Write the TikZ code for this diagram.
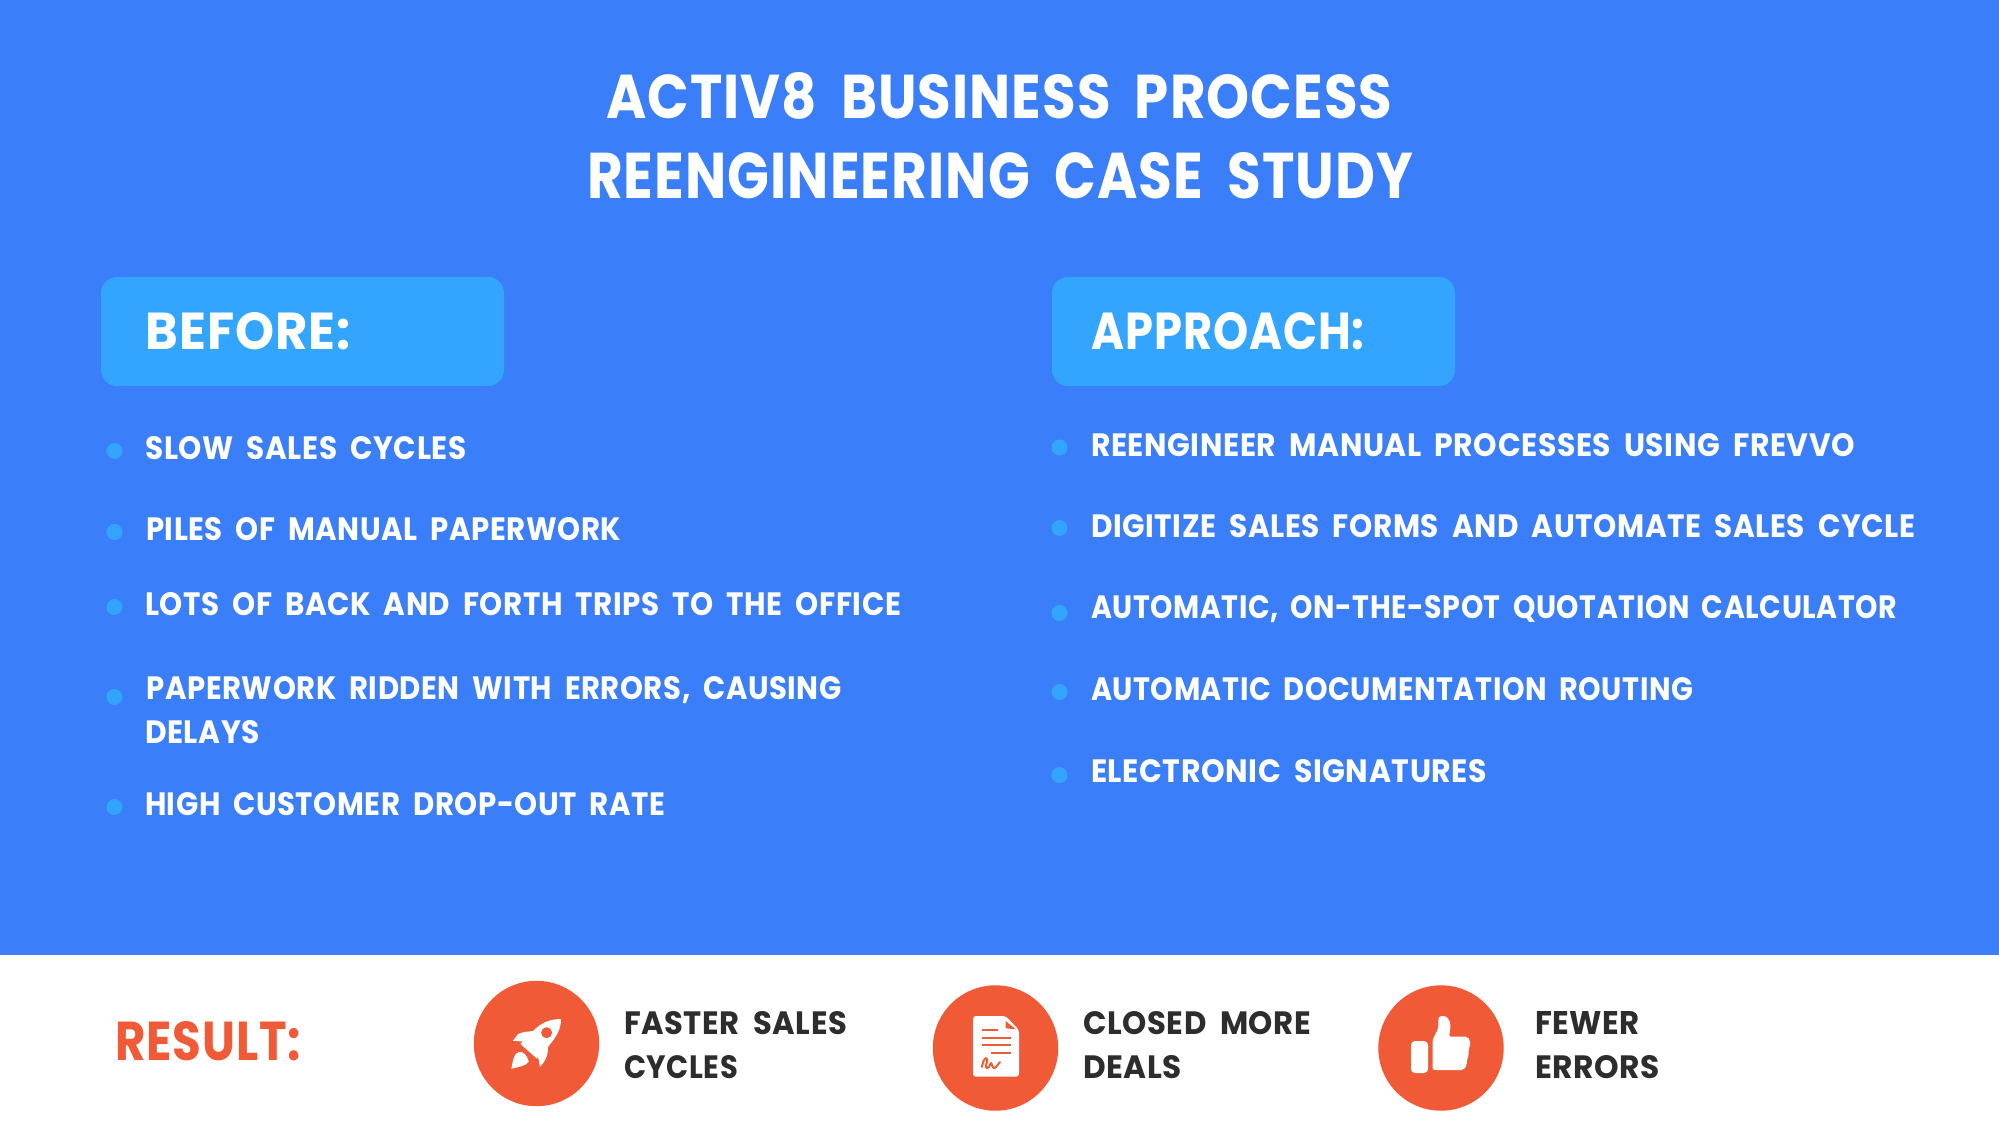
\documentclass[tikz,border=0pt]{standalone}
\usepackage{fontspec}
\setmainfont{Poppins}[WordSpace=1.9,LetterSpace=2]
\newlength{\pxu}
\setlength{\pxu}{0.05cm}
\definecolor{bgblue}{HTML}{3A7FF9}
\definecolor{boxblue}{HTML}{33A5FF}
\definecolor{accent}{HTML}{F15A37}
\definecolor{ink}{HTML}{2D2D2D}
\tikzset{
  fit label/.style={anchor=base west,inner sep=0pt,outer sep=0pt,font=\bfseries,text=#1},
  headbox/.style={fill=boxblue,rounded corners=16\pxu},
  dot/.style={fill=boxblue},
  badge/.style={fill=accent},
  icon/.style={fill=white,draw=none},
  iconline/.style={draw=accent,line width=2\pxu},
}
% colour, name, left x, baseline y, width, cap height, text
\newcommand{\lbl}[7]{\node[fit label=#1] (#2) at (#3,#4) {\resizebox{#5\pxu}{#6\pxu}{#7}};}
\newcommand{\bul}[3]{\fill[dot] (#2,#3) circle[radius=8] coordinate (#1);}
\begin{document}
\begin{tikzpicture}[x=0.05cm,y=-0.05cm]
\useasboundingbox (0,0) rectangle (1999,1143);
\fill[bgblue] (0,0) rectangle (1999,955);
\fill[white] (0,955) rectangle (1999,1143);
% title
\lbl{white}{t1}{606}{118}{786}{46}{ACTIV8 BUSINESS PROCESS}
\lbl{white}{t2}{587}{198}{826}{46}{REENGINEERING CASE STUDY}
% heading boxes
\fill[headbox] (101,277) rectangle (504,386);
\fill[headbox] (1052,277) rectangle (1455,386);
\lbl{white}{before}{145.5}{349}{205}{37}{BEFORE:}
\lbl{white}{approach}{1091.5}{349}{273}{37}{APPROACH:}
% left list
\bul{b1}{114.4}{451}
\bul{b2}{114.4}{532}
\bul{b3}{114.4}{607}
\bul{b4}{114.4}{697}
\bul{b5}{114.4}{807}
\lbl{white}{l1}{145.5}{459}{321}{23}{SLOW SALES CYCLES}
\lbl{white}{l2}{146}{540}{475}{23}{PILES OF MANUAL PAPERWORK}
\lbl{white}{l3}{145}{615}{756}{23}{LOTS OF BACK AND FORTH TRIPS TO THE OFFICE}
\lbl{white}{l4}{146.5}{699}{695}{23}{PAPERWORK RIDDEN WITH ERRORS, CAUSING}
\lbl{white}{l4b}{145}{743}{115}{23}{DELAYS}
\lbl{white}{l5}{145}{815}{520}{23}{HIGH CUSTOMER DROP-OUT RATE}
% right list
\bul{r1}{1059.5}{447.5}
\bul{r2}{1059.5}{528}
\bul{r3}{1059.5}{613}
\bul{r4}{1059.5}{692}
\bul{r5}{1059.5}{775}
\lbl{white}{a1}{1091}{456}{764}{23}{REENGINEER MANUAL PROCESSES USING FREVVO}
\lbl{white}{a2}{1091}{537}{824}{23}{DIGITIZE SALES FORMS AND AUTOMATE SALES CYCLE}
\lbl{white}{a3}{1091}{618}{806}{23}{AUTOMATIC, ON-THE-SPOT QUOTATION CALCULATOR}
\lbl{white}{a4}{1091}{700}{602}{23}{AUTOMATIC DOCUMENTATION ROUTING}
\lbl{white}{a5}{1091}{782}{396}{23}{ELECTRONIC SIGNATURES}
% result band
\lbl{accent}{res}{115}{1060}{186}{39}{RESULT:}
\fill[badge] (536.5,1043.5) circle[radius=62.7];
\fill[badge] (995.5,1048) circle[radius=62.7];
\fill[badge] (1441,1048) circle[radius=62.7];
\lbl{ink}{f1}{624}{1034}{223}{23}{FASTER SALES}
\lbl{ink}{f2}{624}{1078}{114}{23}{CYCLES}
\lbl{ink}{c1}{1083}{1034}{228}{23}{CLOSED MORE}
\lbl{ink}{c2}{1083}{1078}{99}{23}{DEALS}
\lbl{ink}{e1}{1535}{1034}{105}{23}{FEWER}
\lbl{ink}{e2}{1535}{1078}{125}{23}{ERRORS}
% rocket
\fill[icon] (561,1019) .. controls (548,1019) and (540,1024) .. (533,1031)
  -- (524,1032) -- (518,1034) -- (513,1040.7) -- (522.5,1041.5) -- (520.5,1044)
  -- (537,1058.7) -- (538,1056.7) -- (540,1066.7) .. controls (545,1062) and (548,1056) .. (548,1047)
  .. controls (556,1037) and (561,1030) .. (561,1019) -- cycle;
\fill[badge] (546.6,1032.7) circle[radius=5.5];
\fill[icon] (511.4,1068.7) .. controls (513,1060) and (514,1053) .. (519,1052)
  .. controls (523,1051) and (527,1055) .. (528.8,1061.7)
  .. controls (526,1066) and (518,1067) .. (511.4,1068.7) -- cycle;
% document
\fill[icon,rounded corners=3\pxu] (973,1016) -- (1005.6,1016) -- (1019,1030) -- (1019,1076.7) -- (973,1076.7) -- cycle;
\fill[badge] (1005.6,1021) -- (1016,1029.3) -- (1005.6,1028.3) -- cycle;
\draw[iconline] (981.5,1030) -- (998,1030);
\draw[iconline] (981.5,1037.7) -- (1010.5,1037.7);
\draw[iconline] (981.5,1045) -- (1010.5,1045);
\draw[iconline] (991,1052.7) -- (1010.5,1052.7);
\draw[iconline,line cap=round,line join=round] (982,1067) .. controls (983,1060) and (986,1056) .. (987,1059)
  .. controls (988,1062) and (984,1068) .. (987,1068) .. controls (990,1068) and (990,1063) .. (991,1063)
  .. controls (992,1063) and (992,1068) .. (994,1068) .. controls (996,1068) and (998,1064) .. (1000,1062);
% thumb
\fill[icon,rounded corners=4\pxu] (1411,1041) rectangle (1428,1073);
\fill[icon,rounded corners=2\pxu] (1432.7,1070) -- (1432.7,1039.3) -- (1438.3,1028.3) -- (1438.3,1020)
  .. controls (1439,1015.5) and (1446,1015) .. (1449,1020) .. controls (1451,1025) and (1450,1031) .. (1449,1036.7)
  -- (1467.3,1036.7) -- (1470,1040) -- (1470,1047) -- (1468,1050) -- (1469,1055) -- (1466.7,1060) -- (1467,1065) -- (1463.3,1070) -- cycle;
\end{tikzpicture}
\end{document}
